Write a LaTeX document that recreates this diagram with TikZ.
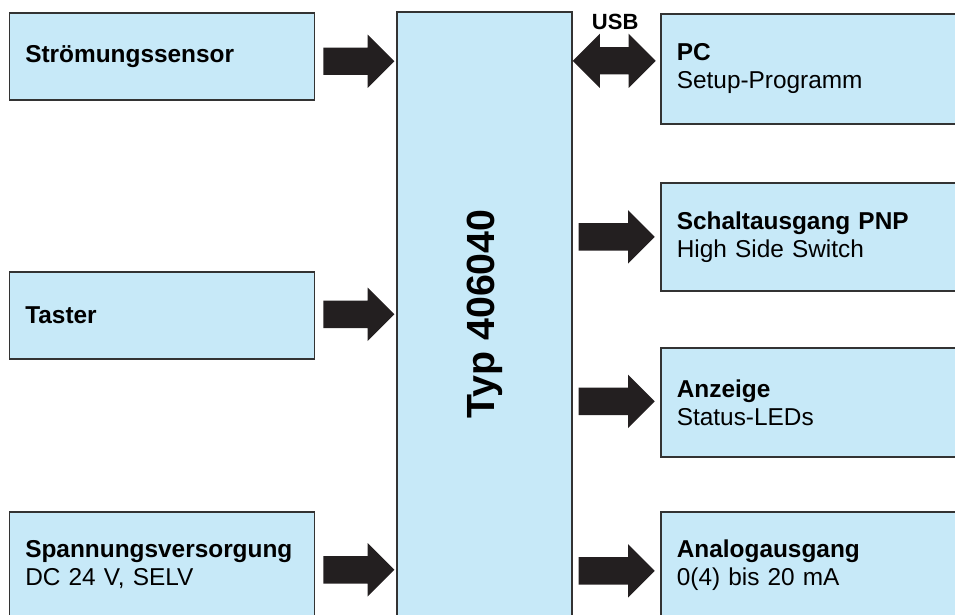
\documentclass[tikz,border=0pt]{standalone}
\usepackage{xcolor}
\usepackage{fontspec}
\setmainfont{Liberation Sans}
\usetikzlibrary{calc}
\usetikzlibrary{positioning}
\usetikzlibrary{shapes.arrows}
\definecolor{boxblue}{HTML}{C7E9F8}
\definecolor{boxline}{HTML}{333333}
\definecolor{arrowblack}{HTML}{231F20}
\newcommand{\txtfont}{\fontsize{24.4}{28}\selectfont}

\begin{document}
\begin{tikzpicture}[x=1pt, y=-1pt,
    box/.style={draw=boxline, line width=1.6pt, fill=boxblue, anchor=north west,
        align=left, inner xsep=16pt, font=\txtfont},
    leftbox/.style={box, text width=273pt},
    rightbox/.style={box, text width=278pt},
    barrow/.style={single arrow, fill=arrowblack, inner sep=13.5pt,
        single arrow head extend=13pt, single arrow tip angle=90, minimum height=#1},
    dbarrow/.style={double arrow, fill=arrowblack, inner sep=13.5pt,
        double arrow head extend=13.5pt, double arrow tip angle=90, minimum height=#1}]
    \useasboundingbox (0, 0) rectangle (955, 615);
    \clip (0, 0) rectangle (955, 615);
    % central block
    \node[draw=boxline, line width=1.6pt, fill=boxblue, minimum width=175pt, minimum height=604pt] (typ) at (484.5, 314) {};
    \node[rotate=90, font=\bfseries\fontsize{39.3}{40}\selectfont] (typlabel) at (typ.center) {Typ 406040};
    % inputs
    \node[leftbox, minimum height=87pt] (sensor) at (8.5, 12) {\bfseries Strömungssensor};
    \node[leftbox, minimum height=87pt] (taster) at (8.5, 271) {\bfseries Taster};
    \node[leftbox, minimum height=106pt] (supply) at (8.5, 511) {{\bfseries Spannungsversorgung}\\DC 24 V, SELV};
    % outputs
    \node[rightbox, minimum height=110pt] (pc) at (660, 13) {{\bfseries PC}\\Setup-Programm};
    \node[rightbox, minimum height=108pt] (switch) at (660, 182) {{\bfseries Schaltausgang PNP}\\High Side Switch};
    \node[rightbox, minimum height=109pt] (display) at (660, 347) {{\bfseries Anzeige}\\Status-LEDs};
    \node[rightbox, minimum height=106pt] (analog) at (660, 511) {{\bfseries Analogausgang}\\0(4) bis 20 mA};
    % arrows
    \node[barrow=71pt, right=8pt of sensor, yshift=-5pt] (a1) {};
    \node[barrow=71pt, right=8pt of taster, yshift=1pt] (a2) {};
    \node[barrow=71pt, right=8pt of supply, yshift=-5pt] (a3) {};
    \node[dbarrow=83pt, left=4pt of pc, yshift=8pt] (b1) {};
    \node[barrow=76pt, left=5pt of switch, yshift=0pt] (b2) {};
    \node[barrow=76pt, left=5pt of display, yshift=1pt] (b3) {};
    \node[barrow=76pt, left=5pt of analog, yshift=-6pt] (b4) {};
    \node[anchor=base, font=\bfseries\fontsize{22}{24}\selectfont] (usb) at ($(b1.center)+(1, -31)$) {USB};
\end{tikzpicture}
\end{document}
